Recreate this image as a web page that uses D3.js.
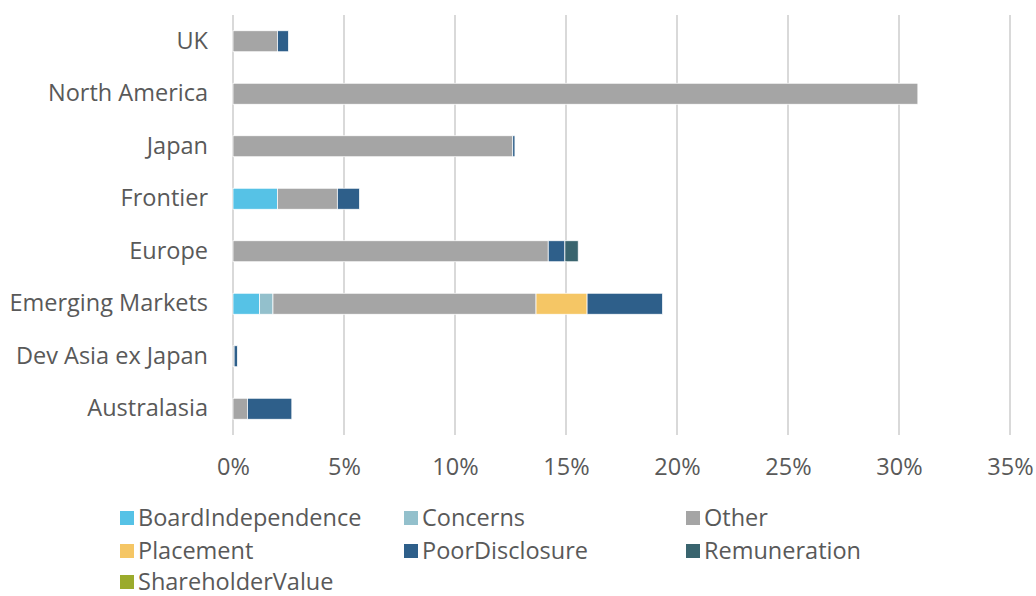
<!DOCTYPE html>
<html>
<head>
<meta charset="utf-8">
<script src="https://cdn.jsdelivr.net/npm/d3@7"></script>
<style>
  body { margin: 0; background: #fff; }
  text { font-family: "Open Sans", sans-serif; fill: #595959; }
</style>
</head>
<body>
<div id="chart"></div>
<script>
// categories top to bottom
var regions = ["UK", "North America", "Japan", "Frontier", "Europe", "Emerging Markets", "Dev Asia ex Japan", "Australasia"];
var seriesNames = ["BoardIndependence", "Concerns", "Other", "Placement", "PoorDisclosure", "Remuneration", "ShareholderValue"];
var seriesColors = ["#56c2e6", "#93c0cc", "#a5a5a5", "#f5c665", "#2e5f8a", "#39646e", "#9bab2c"];

// values in %, one array per series, in region order
var boardIndependence = [0, 0, 0, 2.0, 0, 1.2, 0, 0];
var concerns          = [0, 0, 0, 0, 0, 0.6, 0, 0];
var other             = [2.0, 30.85, 12.6, 2.7, 14.2, 11.85, 0.05, 0.65];
var placement         = [0, 0, 0, 0, 0, 2.3, 0, 0];
var poorDisclosure    = [0.5, 0, 0.1, 1.0, 0.75, 3.4, 0.15, 2.0];
var remuneration      = [0, 0, 0, 0, 0.6, 0, 0, 0];
var shareholderValue  = [0, 0, 0, 0, 0, 0, 0, 0];
var xTicks = [0, 5, 10, 15, 20, 25, 30, 35];

var seriesValues = [boardIndependence, concerns, other, placement, poorDisclosure, remuneration, shareholderValue];

var W = 1036, H = 596;
var margin = {top: 15, left: 233, right: 26, bottom: 161};
var fontSize = "23.5px";

var svg = d3.select("#chart").append("svg")
    .attr("width", W)
    .attr("height", H);

var rows = regions.map(function(r, i) {
    var o = {region: r};
    seriesNames.forEach(function(s, j) { o[s] = seriesValues[j][i]; });
    return o;
});

var x = d3.scaleLinear()
    .domain([0, 35])
    .range([margin.left, W - margin.right]);

var y = d3.scaleBand()
    .domain(regions)
    .range([margin.top, H - margin.bottom])
    .paddingInner(0.6)
    .paddingOuter(0.3);

//gridlines
svg.append("g")
    .selectAll("line")
    .data(xTicks)
    .enter().append("line")
    .attr("x1", function(d) { return x(d); })
    .attr("x2", function(d) { return x(d); })
    .attr("y1", margin.top)
    .attr("y2", H - margin.bottom)
    .style("stroke", "#d9d9d9")
    .style("stroke-width", 2);

//x tick labels
var xAxis = d3.axisBottom(x)
    .tickValues(xTicks)
    .tickFormat(function(d) { return d + "%"; })
    .tickSize(0)
    .tickPadding(0);

var gx = svg.append("g")
    .attr("transform", "translate(0," + (H - margin.bottom + 23) + ")")
    .call(xAxis);
gx.select(".domain").remove();
gx.selectAll("text")
    .style("font-size", fontSize)
    .style("font-family", "'Open Sans', sans-serif")
    .attr("fill", "#595959");

//category labels
var yAxis = d3.axisLeft(y).tickSize(0).tickPadding(25);
var gy = svg.append("g")
    .attr("transform", "translate(" + margin.left + ",0)")
    .call(yAxis);
gy.select(".domain").remove();
gy.selectAll("text")
    .style("font-size", fontSize)
    .style("font-family", "'Open Sans', sans-serif")
    .attr("fill", "#595959");

//stacked bars
var stack = d3.stack().keys(seriesNames);
var layers = stack(rows);

svg.append("g")
    .selectAll("g")
    .data(layers)
    .enter().append("g")
    .style("fill", function(d, i) { return seriesColors[i]; })
    .selectAll("rect")
    .data(function(d) { return d.filter(function(p) { return p[1] - p[0] > 0; }); })
    .enter().append("rect")
    .attr("x", function(d) { return x(d[0]); })
    .attr("width", function(d) { return x(d[1]) - x(d[0]); })
    .attr("y", function(d) { return y(d.data.region); })
    .attr("height", y.bandwidth())
    .style("stroke", "#ffffff")
    .style("stroke-width", 0.75);

//legend
var legendCols = [120, 404, 686];
var legendRows = [518, 551, 582];

var legend = svg.append("g")
    .selectAll("g")
    .data(seriesNames)
    .enter().append("g")
    .attr("transform", function(d, i) {
        return "translate(" + legendCols[i % 3] + "," + legendRows[Math.floor(i / 3)] + ")";
    });

legend.append("rect")
    .attr("x", 0)
    .attr("y", -7)
    .attr("width", 14)
    .attr("height", 14)
    .style("fill", function(d, i) { return seriesColors[i]; });

legend.append("text")
    .attr("x", 18)
    .attr("y", 0)
    .attr("dy", "0.35em")
    .style("font-size", fontSize)
    .text(function(d) { return d; });
</script>
</body>
</html>
